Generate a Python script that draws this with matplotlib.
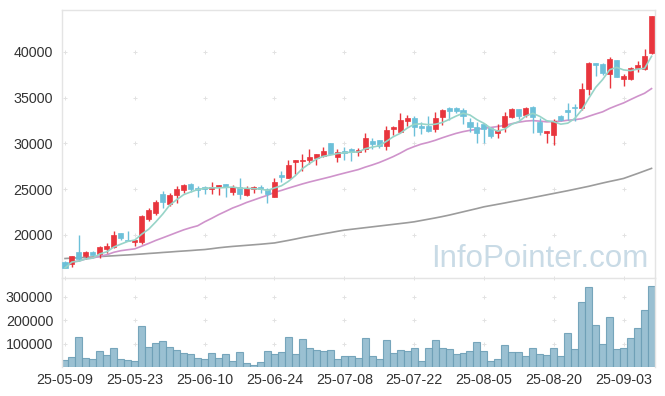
import matplotlib
matplotlib.use("Agg")
import matplotlib.pyplot as plt
import numpy as np
import pandas as pd

plt.rcParams['font.family'] = ['Liberation Sans', 'DejaVu Sans']

# ── 데이터 ─────────────────────────────────────────
opens = [17100, 16800, 18100, 17700, 18100, 17900, 18450, 18700, 20200, 19450,
         19250, 19250, 21750, 22400, 24450, 23400, 24400, 24900, 25550, 25100,
         25200, 25050, 25250, 25550, 24700, 25200, 24350, 25000, 25200, 25000,
         24150, 26550, 26250, 28000, 28050, 28200, 28450, 28650, 30000, 28550,
         29150, 29450, 29100, 29450, 30250, 30350, 29750, 31600, 31300, 32500,
         32750, 31900, 31900, 31550, 32900, 33900, 33850, 33650, 32300, 31850,
         32100, 31650, 31150, 31850, 32900, 33750, 33100, 34000, 32400, 31150,
         30900, 33000, 33650, 34000, 33850, 36000, 38750, 38700, 37600, 39100,
         37000, 37000, 38200, 38100, 39850]
highs = [17200, 17750, 19950, 18300, 18300, 18800, 19100, 20400, 20250, 20400,
         19500, 22200, 22900, 23800, 24800, 24600, 25300, 25600, 25650, 25300,
         25300, 25800, 25500, 25600, 25500, 26200, 25300, 25400, 25500, 25100,
         26200, 27000, 28150, 28250, 28800, 29450, 28850, 29600, 30050, 29450,
         29650, 29500, 29500, 31200, 30650, 30400, 31900, 31900, 33300, 33150,
         33050, 32300, 33050, 33400, 33800, 34000, 33950, 33900, 32750, 32400,
         32200, 31750, 32100, 33450, 33850, 33800, 34000, 34100, 32750, 31400,
         32700, 33100, 34400, 34350, 36600, 38950, 38800, 38800, 39500, 39150,
         37600, 38400, 39000, 40300, 43950]
lows = [16350, 16500, 17200, 17400, 17800, 17450, 18000, 18600, 19500, 19300,
        18750, 19000, 21500, 22200, 22900, 23200, 23500, 24600, 24750, 24150,
        24450, 24450, 24400, 24200, 24400, 23900, 24300, 24600, 24600, 23450,
        24100, 25800, 26200, 26700, 27000, 27800, 27600, 28500, 28800, 27950,
        28200, 28100, 28650, 29100, 29450, 29500, 29300, 30900, 31100, 31900,
        30800, 31050, 31300, 31300, 32000, 32550, 33300, 32100, 31300, 30000,
        30000, 30600, 30650, 31300, 32800, 32700, 32900, 31150, 30900, 30100,
        29800, 32450, 32550, 32500, 33650, 35300, 37400, 37500, 36050, 37250,
        36300, 36900, 37850, 38000, 39800]
closes = [16400, 17700, 17350, 18100, 17850, 18700, 18800, 20000, 19650, 19350,
          19450, 22050, 22700, 23600, 23650, 24350, 25000, 25450, 25050, 24950,
          25050, 25250, 25450, 25250, 25200, 24450, 25150, 25250, 25050, 24450,
          25800, 26350, 27650, 28200, 28250, 28550, 28800, 29200, 28850, 29100,
          29000, 29100, 29300, 30650, 29950, 29750, 31450, 31850, 32550, 32800,
          31850, 31700, 31400, 32750, 33700, 33550, 33550, 33000, 31750, 31150,
          31550, 30800, 31450, 33000, 33750, 32950, 33900, 32900, 31300, 31350,
          32450, 32550, 33450, 33850, 36000, 38750, 38600, 37750, 39200, 37300,
          37350, 38200, 38600, 39550, 43950]
volumes = [29800, 42500, 127600, 38300, 34000, 68000, 51000, 80800, 34000, 29800,
           25500, 174400, 85100, 102100, 110600, 85100, 72300, 59600, 55300, 38300,
           34000, 59600, 38300, 55300, 25500, 63800, 17000, 8500, 21300, 68000,
           55300, 63800, 127600, 55300, 119100, 80800, 72300, 68000, 72300, 34000,
           46800, 46800, 38300, 123400, 46800, 34000, 114900, 59600, 72300, 68000,
           80800, 25500, 80800, 114900, 80800, 76600, 55300, 59600, 68000, 106400,
           68000, 25500, 34000, 93600, 63800, 63800, 46800, 80800, 55300, 51000,
           80800, 46800, 144600, 76600, 276500, 340300, 178700, 97800, 212700, 76600,
           80800, 123400, 165900, 242500, 344600]
# 120일선 (앞쪽 이력이 없어 그림에서 직접 읽음)
ma120 = [17430, 17470, 17510, 17550, 17600, 17640, 17690, 17730, 17780, 17820,
         17870, 17920, 17980, 18030, 18090, 18140, 18200, 18250, 18300, 18360,
         18410, 18500, 18600, 18680, 18750, 18810, 18870, 18930, 18990, 19060,
         19130, 19270, 19410, 19560, 19720, 19860, 19990, 20130, 20260, 20400,
         20530, 20620, 20710, 20800, 20890, 20980, 21070, 21160, 21250, 21340,
         21440, 21580, 21720, 21860, 22010, 22170, 22350, 22530, 22710, 22890,
         23080, 23220, 23360, 23500, 23650, 23790, 23940, 24090, 24240, 24390,
         24540, 24690, 24840, 25000, 25160, 25320, 25500, 25680, 25850, 26010,
         26180, 26450, 26720, 27000, 27280]
tick_labels = ["25-05-09", "25-05-23", "25-06-10", "25-06-24", "25-07-08",
               "25-07-22", "25-08-05", "25-08-20", "25-09-03"]
price_ticks = [20000, 25000, 30000, 35000, 40000]
vol_ticks = [100000, 200000, 300000]

UP, DOWN = "#e8353d", "#6cc0d9"
FRAME = "#e4e4e4"

x = np.arange(len(closes))
tick_pos = np.arange(0, len(closes), 10)
close_s = pd.Series(closes)
ma5 = close_s.rolling(5, min_periods=1).mean()
ma20 = close_s.rolling(20, min_periods=1).mean()

fig = plt.figure(figsize=(6.65, 3.96), dpi=100)
ax = fig.add_axes([0.0925, 0.298, 0.8925, 0.677])
axv = fig.add_axes([0.0925, 0.0725, 0.8925, 0.2255], sharex=ax)

# ── 캔들 ──────────────────────────────────────────────
for i in x:
    o, h, l, c = opens[i], highs[i], lows[i], closes[i]
    col = UP if c >= o else DOWN
    ax.vlines(i, l, h, color=col, lw=1, zorder=3)
    ax.bar(i, max(abs(c - o), 60), bottom=min(o, c), width=0.72,
           color=col, edgecolor=col, lw=0.5, zorder=4)

ax.plot(x, ma120, color="#9c9c9c", lw=1.2, zorder=2)
ax.plot(x, ma20, color="#cf93cb", lw=1.2, zorder=2)
ax.plot(x, ma5, color="#97d4c8", lw=1.2, zorder=5)

ax.set_xlim(-0.5, len(closes) - 0.5)
ax.set_ylim(15300, 44600)
ax.set_yticks(price_ticks)
ax.tick_params(axis="y", length=0, pad=6, labelsize=10.3, labelcolor="#333333")
ax.tick_params(axis="x", length=0, labelbottom=False)

gx, gy = np.meshgrid(tick_pos, price_ticks)
ax.scatter(gx.ravel(), gy.ravel(), marker="+", s=8, color="#e2e2e2", lw=0.7, zorder=0)

ax.text(0.988, 0.04, "InfoPointer.com", transform=ax.transAxes, ha="right",
        va="baseline", fontsize=22.5, color="#c9dbe6", zorder=1)

# ── 거래량 ────────────────────────────────────────────
axv.bar(x, volumes, width=1.0, color="#8fbacd", edgecolor="#6d9fb6",
        lw=0.8, alpha=0.9, zorder=2)
axv.set_ylim(0, 380000)
axv.set_yticks(vol_ticks)
axv.set_xticks(tick_pos)
axv.set_xticklabels(tick_labels)
axv.tick_params(axis="y", length=0, pad=6, labelsize=10.3, labelcolor="#333333")
axv.tick_params(axis="x", length=0, pad=4, labelsize=10.3, labelcolor="#333333")

vx, vy = np.meshgrid(tick_pos, vol_ticks + [380000])
axv.scatter(vx.ravel(), vy.ravel(), marker="+", s=8, color="#e2e2e2", lw=0.7,
            zorder=0, clip_on=False)

for a in (ax, axv):
    for side in ("left", "right", "top"):
        a.spines[side].set_color(FRAME)
        a.spines[side].set_linewidth(1)
    a.spines["bottom"].set_visible(False)
ax.spines["bottom"].set_visible(True)
ax.spines["bottom"].set_color(FRAME)

fig.savefig("out.png", dpi=100, facecolor="white")
plt.close()
